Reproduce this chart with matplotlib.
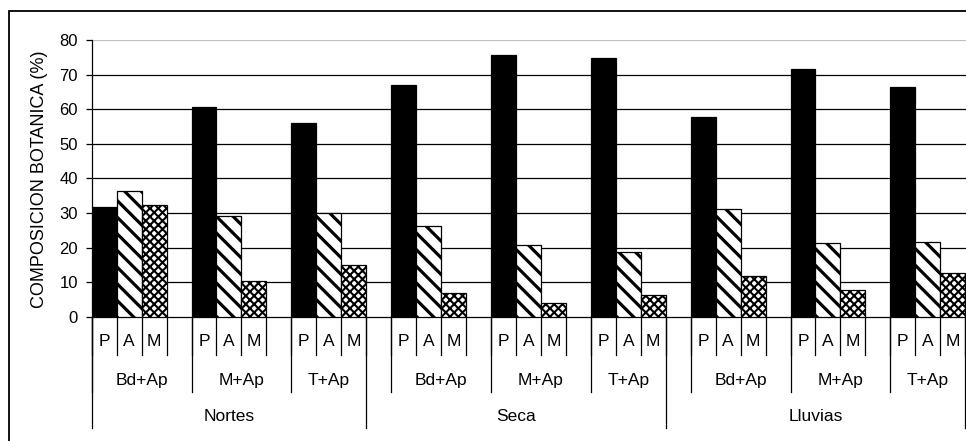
import matplotlib
matplotlib.use("Agg")
import matplotlib.pyplot as plt
from matplotlib.patches import Rectangle

plt.rcParams['font.family'] = ['Liberation Sans', 'DejaVu Sans']

# data
seasons = ['Nortes', 'Seca', 'Lluvias']
treatments = ['Bd+Ap', 'M+Ap', 'T+Ap']
components = ['P', 'A', 'M']
values = {
    'Nortes':  [[31.6, 36.3, 32.3], [60.5, 29.1, 10.4], [55.9, 29.9, 14.9]],
    'Seca':    [[67.0, 26.3, 6.9], [75.7, 20.7, 3.9], [74.9, 18.8, 6.2]],
    'Lluvias': [[57.8, 31.0, 11.7], [71.7, 21.2, 7.7], [66.5, 21.6, 12.5]],
}
yticks = [0, 10, 20, 30, 40, 50, 60, 70, 80]

W, H = 966, 441
fig = plt.figure(figsize=(W / 100, H / 100), dpi=100)
ax_l, ax_r, ax_t, ax_b = 91.7, 966.0, 40.0, 316.7
ax = fig.add_axes([ax_l / W, 1 - ax_b / H, (ax_r - ax_l) / W, (ax_b - ax_t) / H])
ax_h = ax_b - ax_t

# outer frame of the chart area (cut at right/bottom)
fig.patches.append(Rectangle((9 / W, -0.1), 1.2, 1 - 11 / H + 0.1,
                             transform=fig.transFigure, fill=False,
                             edgecolor='black', linewidth=1.3))

styles = {
    'P': dict(facecolor='black', hatch=None),
    'A': dict(facecolor='white', hatch='\\\\'),
    'M': dict(facecolor='white', hatch='xxxx'),
}
hatch_lw = {'P': 1.0, 'A': 2.3, 'M': 1.5}

pos = 0
group_starts = []
season_edges = [-0.5]
group_labels = []
season_labels = []
for si, s in enumerate(seasons):
    s_start = season_edges[-1]
    for ti, t in enumerate(treatments):
        if not (si == 0 and ti == 0):
            pos += 1  # blank category between groups
        p = pos
        group_starts.append(p)
        for ci, c in enumerate(components):
            with plt.rc_context({'hatch.linewidth': hatch_lw[c]}):
                b = ax.bar(p + ci, values[s][ti][ci], width=1.0,
                           edgecolor='black', linewidth=0.9,
                           facecolor=styles[c]['facecolor'],
                           hatch=styles[c]['hatch'], zorder=3)
                for r in b:
                    if hasattr(r, 'set_hatch_linewidth'):
                        r.set_hatch_linewidth(hatch_lw[c])
        last = ti == len(treatments) - 1
        center = p + 1 if last else p + 1.5
        group_labels.append((center, t))
        pos = p + 3
    season_edges.append(pos - 0.5)
    season_labels.append(((s_start + pos - 0.5) / 2, s))

n_cat = pos
ax.set_xlim(-0.5, n_cat - 0.5 + 0.03)
ax.set_ylim(0, 80)
ax.set_yticks(yticks)
ax.set_xticks([])
ax.tick_params(axis='y', direction='out', length=4, width=0.9,
               pad=6, labelsize=12, color='black')

for sp in ['right', 'top']:
    ax.spines[sp].set_visible(False)
ax.spines['left'].set_linewidth(0.9)
ax.spines['bottom'].set_linewidth(0.9)
ax.axhline(80, color='#c0c0c0', linewidth=0.9, zorder=1)
for v in yticks[1:-1]:
    ax.axhline(v, color='black', linewidth=0.9, zorder=1)

tr = ax.get_xaxis_transform()


def ypx(d):
    return -d / ax_h


line_kw = dict(color='black', linewidth=0.9, clip_on=False, transform=tr)
for p in group_starts:
    for k in range(4):
        ax.plot([p - 0.5 + k] * 2, [0, ypx(38.3)], **line_kw)
    ax.plot([p - 0.5] * 2, [0, ypx(75.3)], **line_kw)
    for ci, c in enumerate(components):
        ax.text(p + ci, ypx(25), c, transform=tr, ha='center', va='center',
                fontsize=12.5)
for e in season_edges:
    ax.plot([e] * 2, [0, ypx(111.3)], **line_kw)
for cx, t in group_labels:
    ax.text(cx, ypx(63.3), t, transform=tr, ha='center', va='center',
            fontsize=12.5)
for cx, s in season_labels:
    ax.text(cx, ypx(100), s, transform=tr, ha='center', va='center',
            fontsize=12.5)

fig.text(40 / W, 1 - 179 / H, 'COMPOSICION BOTANICA (%)', rotation=90,
         ha='center', va='center', fontsize=13)

fig.savefig('out.png', dpi=100)
